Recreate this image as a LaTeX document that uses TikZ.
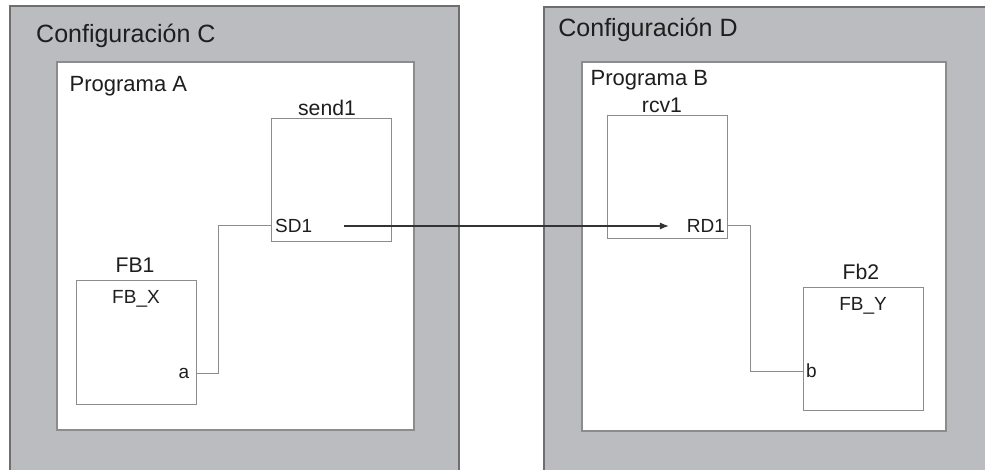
\documentclass[tikz,border=0pt]{standalone}
\usepackage{fontspec}
\setmainfont{Liberation Sans}
\usepackage{tikz}
\usetikzlibrary{arrows.meta,calc}
\definecolor{cfggray}{HTML}{BBBCC0}
\definecolor{edgegray}{HTML}{8C8C8C}
\definecolor{darkedge}{HTML}{6E6E6E}
\definecolor{inkgray}{HTML}{1E1E1E}

\begin{document}
\begin{tikzpicture}[x=0.5pt,y=-0.5pt,
    cfg/.style={fill=cfggray,draw=darkedge,line width=1pt},
    prog/.style={fill=white,draw=edgegray,line width=0.6pt},
    block/.style={draw=edgegray,line width=0.5pt,minimum width=60pt,minimum height=61.5pt,inner sep=0pt},
    title/.style={font=\fontsize{12.5}{15}\selectfont,text=inkgray,inner sep=0pt,anchor=base west},
    progname/.style={font=\fontsize{11}{13}\selectfont,text=inkgray,inner sep=0pt,anchor=base west},
    lbl/.style={font=\fontsize{10.6}{12}\selectfont,text=inkgray,inner sep=0pt,anchor=base},
    ftype/.style={font=\fontsize{9.5}{11}\selectfont,text=inkgray,inner sep=0pt,anchor=base},
    port/.style={font=\fontsize{9.5}{11}\selectfont,text=inkgray,inner ysep=0pt},
    wire/.style={draw=edgegray,line width=0.5pt},
    msg/.style={draw=black!80,line width=0.65pt,-{Latex[length=4.5pt,width=3.5pt]}}]
    \clip (0,0) rectangle (985,470);

    % Configurations
    \draw[cfg] (10,6) rectangle (459,480);
    \draw[cfg] (544,7) rectangle (995,480);
    \node[title] (cfgC) at (35.8,43) {Configuración C};
    \node[title] (cfgD) at (558,37) {Configuración D};

    % Programs
    \draw[prog] (57,62) rectangle (414,430);
    \draw[prog] (582,62) rectangle (946,431);
    \node[progname] (progA) at (69.3,92) {Programa A};
    \node[progname] (progB) at (590.3,86) {Programa B};

    % Blocks of program A
    \node[block] (send1) at (331,180.5) {};
    \node[lbl] (send1name) at ([xshift=-2pt,yshift=1.5pt]send1.north) {send1};
    \node[block] (fb1) at (136,342.5) {};
    \node[lbl] (fb1name) at ([xshift=-0.5pt,yshift=4pt]fb1.north) {FB1};
    \node[ftype] (fb1type) at ([yshift=-11.5pt]fb1.north) {FB\_X};
    \node[port,anchor=west,inner xsep=1.9pt] (sd1) at (271,226) {SD1};
    \node[port,anchor=east,inner xsep=3.2pt] (pa) at (196,373) {a};

    % Blocks of program B
    \node[block] (rcv1) at (667,177.5) {};
    \node[lbl] (rcv1name) at ([xshift=-2.5pt,yshift=1.5pt]rcv1.north) {rcv1};
    \node[block] (fb2) at (863,349) {};
    \node[lbl] (fb2name) at ([xshift=-1pt,yshift=4pt]fb2.north) {Fb2};
    \node[ftype] (fb2type) at ([yshift=-11.5pt]fb2.north) {FB\_Y};
    \node[port,anchor=east,inner xsep=0.8pt] (rd1) at (727,226) {RD1};
    \node[port,anchor=west,inner xsep=1.4pt] (pb) at (803,371) {b};

    % Connections
    \draw[wire] (pa.east) -- ++(22,0) |- (sd1.west);
    \draw[wire] (rd1.east) -- ++(23,0) |- (pb.west);
    \draw[msg] ([xshift=13.7pt]sd1.east) -- ([xshift=-8pt]rd1.west);
\end{tikzpicture}
\end{document}
